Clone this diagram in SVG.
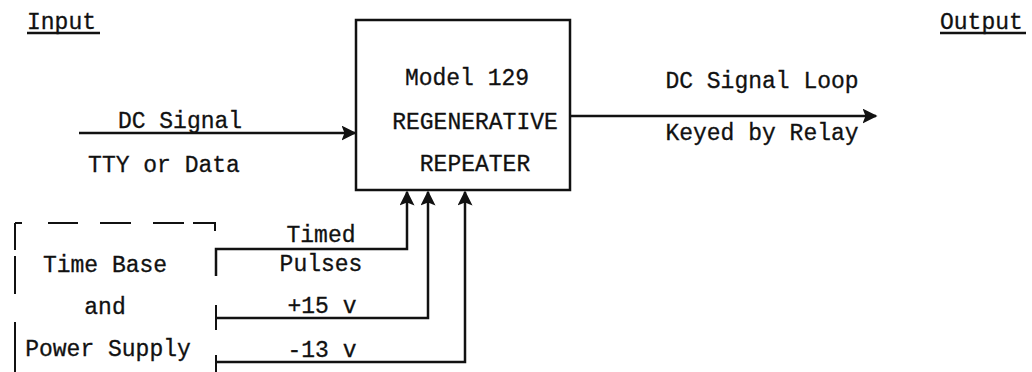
<svg xmlns="http://www.w3.org/2000/svg" width="1032" height="372" viewBox="0 0 1032 372">
<defs>
<style>
text{font-family:"Liberation Mono","Courier New",monospace;font-size:23px;fill:#111;stroke:#111;stroke-width:0.3;}
.c{text-anchor:middle;}
.ln{stroke:#111;stroke-width:2.5;fill:none;}
.box{stroke:#111;stroke-width:2.5;fill:#fff;}
.dash{stroke:#111;stroke-width:2;fill:none;}
</style>
<marker id="ah" viewBox="0 0 10 10" refX="9" refY="5" markerWidth="6" markerHeight="6" orient="auto" markerUnits="strokeWidth">
<path d="M0,0 L10,5 L0,10 L2,5 Z" fill="#111"/>
</marker>
</defs>
<rect width="1032" height="372" fill="#fff"/>

<g id="input-label">
<text x="27" y="29">Input</text>
<line x1="27" y1="33" x2="100" y2="33" class="ln" stroke-width="2"/>
</g>
<g id="output-label">
<text x="940" y="29">Output</text>
<line x1="940" y1="33" x2="1026" y2="33" class="ln" stroke-width="2"/>
</g>

<g id="repeater">
<rect x="356" y="20" width="214" height="170" class="box"/>
<text x="467" y="85" class="c">Model 129</text>
<text x="475" y="129" class="c">REGENERATIVE</text>
<text x="475" y="171" class="c">REPEATER</text>
</g>

<g id="timebase">
<path class="dash" d="M15,223 V250 M15,256 V294 M15,322 V372 M15,223 H22 M48,223 H78 M100,223 H131 M153,223 H184 M193,223 H215 V231 M216,305 V330 M216,355 V372"/>
<text x="105" y="272" class="c">Time Base</text>
<text x="105" y="314" class="c">and</text>
<text x="108" y="356" class="c">Power Supply</text>
</g>

<g id="connectors">
<line x1="79" y1="133" x2="355" y2="133" class="ln" marker-end="url(#ah)"/>
<line x1="570" y1="116" x2="876" y2="116" class="ln" marker-end="url(#ah)"/>
<path d="M216,276 V249 H407 V192" class="ln" marker-end="url(#ah)"/>
<path d="M216,318 H428 V192" class="ln" marker-end="url(#ah)"/>
<path d="M216,362 H465 V192" class="ln" marker-end="url(#ah)"/>
</g>

<g id="labels">
<text x="180" y="128" class="c">DC Signal</text>
<text x="164" y="172" class="c">TTY or Data</text>
<text x="762" y="88" class="c">DC Signal Loop</text>
<text x="762" y="140" class="c">Keyed by Relay</text>
<text x="321" y="242" class="c">Timed</text>
<text x="321" y="271" class="c">Pulses</text>
<text x="322" y="313" class="c">+15 v</text>
<text x="322" y="357" class="c">-13 v</text>
</g>
</svg>
